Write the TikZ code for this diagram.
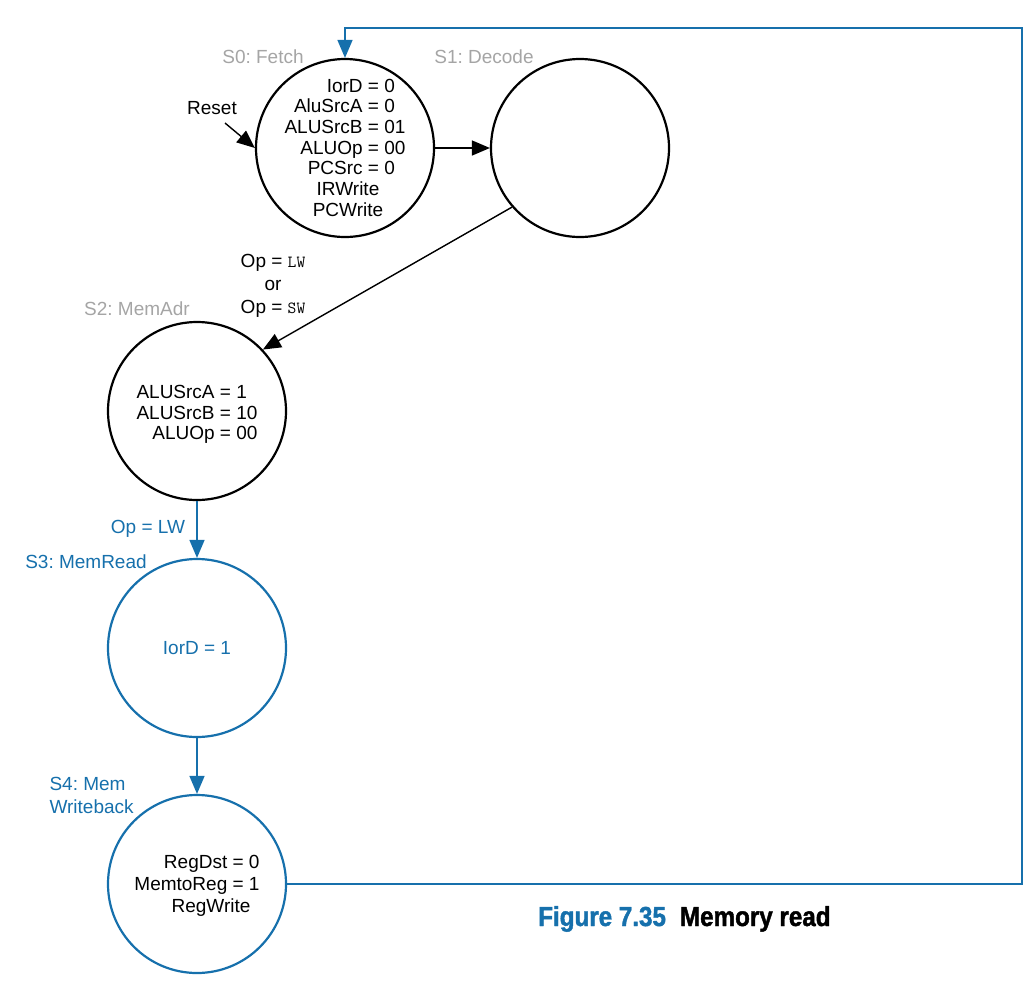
\documentclass[tikz,border=0pt]{standalone}
\usepackage{fontspec}
\setmainfont{Liberation Sans}
\newfontfamily\capfont[FakeStretch=0.88, BoldFeatures={FakeBold=1.5}]{Liberation Sans}
\usetikzlibrary{arrows.meta}
\definecolor{fsmblue}{RGB}{22,112,172}
\definecolor{fsmgray}{RGB}{165,165,165}
\frenchspacing
\tikzset{
  state/.style={circle, draw, line width=2.2pt, minimum size=178pt, inner sep=0pt},
  bstate/.style={state, draw=fsmblue},
  trans/.style={draw, line width=1.4pt, -{Triangle[length=18pt,width=15pt]}},
  btrans/.style={trans, draw=fsmblue, fill=fsmblue},
  sname/.style={font=\fontsize{19}{23}\selectfont, text=fsmgray},
  bname/.style={sname, text=fsmblue},
  outs/.style={font=\fontsize{19}{20.7}\selectfont, inner sep=0pt},
}
\begin{document}
\begin{tikzpicture}[x=1pt, y=-1pt]
  \useasboundingbox (0,0) rectangle (1031,986);
  % states
  \node[state]  (S0) at (345,148) {};
  \node[state]  (S1) at (580,148) {};
  \node[state]  (S2) at (197,411) {};
  \node[bstate] (S3) at (197,648) {};
  \node[bstate] (S4) at (197,884) {};
  % state names
  \node[sname] (S0name) at (263,57) {S0: Fetch};
  \node[sname] (S1name) at (484,57) {S1: Decode};
  \node[sname] (S2name) at (137,309) {S2: MemAdr};
  \node[bname] (S3name) at (86,562) {S3: MemRead};
  \node[bname, align=left, anchor=west] (S4name) at (46,795) {S4: Mem\\Writeback};
  % outputs
  \node[outs] (S0out) at ([yshift=-2pt]S0.center) {\begin{tabular}{@{}r@{\ =\ }l@{}}
      IorD & 0\\ AluSrcA & 0\\ ALUSrcB & 01\\ ALUOp & 00\\ PCSrc & 0\\
      \multicolumn{2}{c}{\hspace*{6pt}IRWrite}\\ \multicolumn{2}{c}{\hspace*{6pt}PCWrite}\end{tabular}};
  \node[outs] (S2out) at ([yshift=-4pt]S2.center) {\begin{tabular}{@{}r@{\ =\ }l@{}}
      ALUSrcA & 1\\ ALUSrcB & 10\\ ALUOp & 00\end{tabular}};
  \node[outs, text=fsmblue] (S3out) at (S3.center) {IorD = 1};
  \node[outs, font=\fontsize{19}{22}\selectfont] (S4out) at ([yshift=-2pt]S4.center) {\begin{tabular}{@{}r@{\ =\ }l@{}}
      RegDst & 0\\ MemtoReg & 1\\ \multicolumn{2}{c}{\hspace*{28pt}RegWrite}\end{tabular}};
  % transitions
  \node[sname, text=black] (reset) at (212,108) {Reset};
  \coordinate (resetin) at (225,123);
  \path[trans, fill] (resetin) -- (S0.west);
  \path[trans, fill] (S0.east) -- (S1.west);
  \path[trans, fill] (S1.221) -- (S2.43);
  \node[sname, text=black, align=center, font=\fontsize{19}{23}\selectfont] (cond12) at (273,286)
    {Op = {\ttfamily\fontsize{17}{17}\selectfont LW}\\or\\Op = {\ttfamily\fontsize{17}{17}\selectfont SW}};
  \path[btrans] (S2.south) -- (S3.north);
  \node[bname] (cond23) at (148,529) {Op = LW};
  \path[btrans] (S3.south) -- (S4.north);
  \coordinate (corner) at (1022,28);
  \path[btrans, fill=none] (S4.east) -| (corner) -| (S0.north);
  % caption
  \node[anchor=base west, inner sep=0pt, font=\capfont\bfseries\fontsize{27.5}{28}\selectfont] (caption) at (538,926)
    {\textcolor{fsmblue}{Figure 7.35}\hspace{14pt}Memory read};
\end{tikzpicture}
\end{document}
